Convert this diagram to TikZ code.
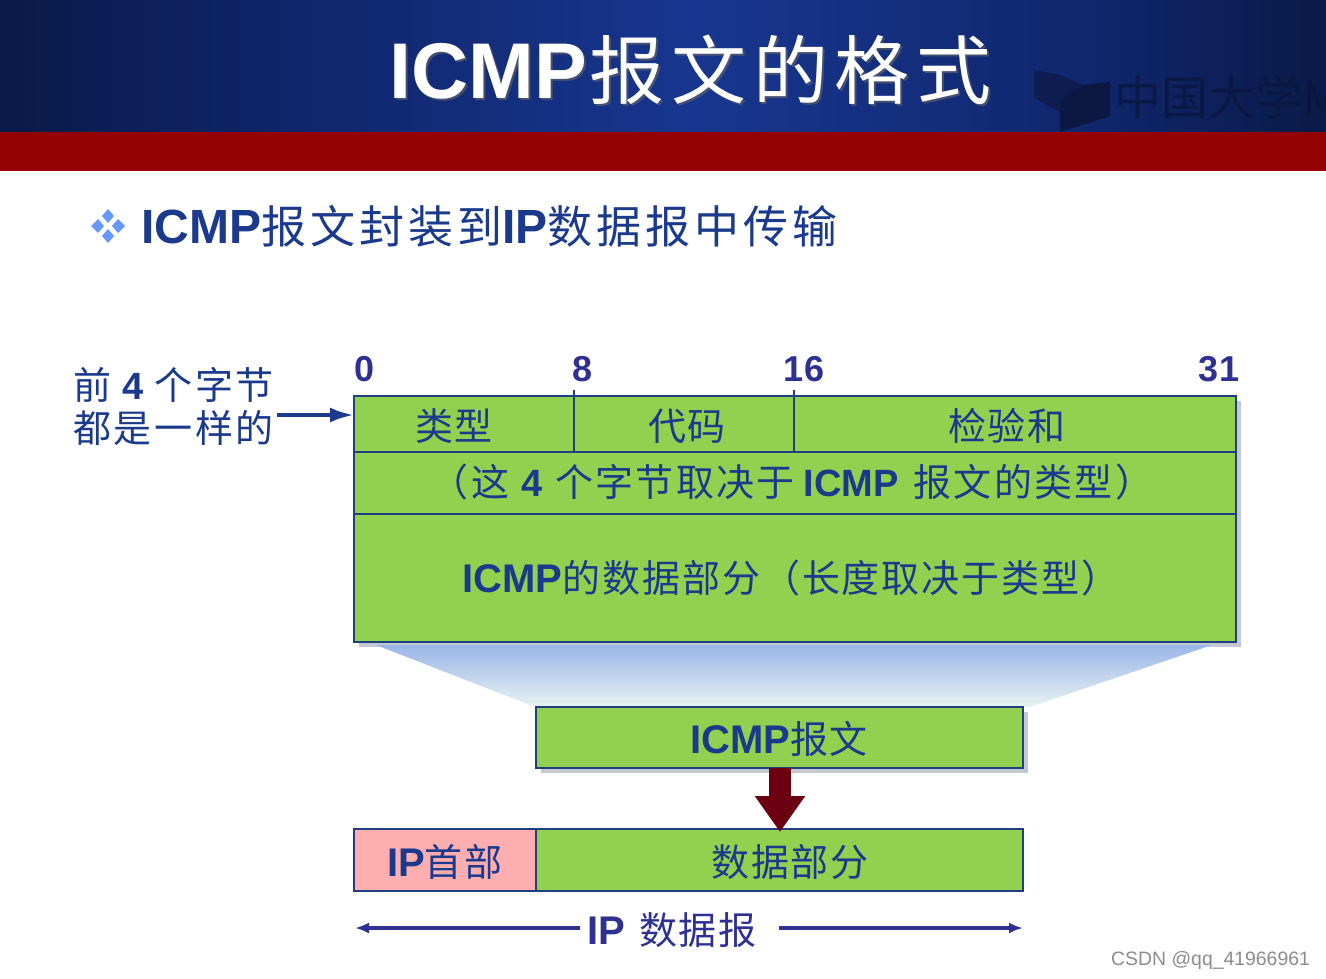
\documentclass[tikz,border=0pt]{standalone}
\usepackage{fontspec}
\usetikzlibrary{arrows.meta,shadows}
\setmainfont{Noto Sans CJK SC}
\newfontfamily\latf{Liberation Sans}
\newcommand{\la}[1]{{\latf\bfseries #1}}
\newcommand{\fsz}[1]{\fontsize{#1}{#1}\selectfont}
\newcommand{\fls}[2]{\fontsize{#1}{#1}\selectfont\addfontfeature{LetterSpace=#2}}
\definecolor{navyd}{HTML}{0A1A48}
\definecolor{navyt}{HTML}{10266C}
\definecolor{navym}{HTML}{18368F}
\definecolor{redbar}{HTML}{950000}
\definecolor{cellg}{HTML}{92D050}
\definecolor{inkb}{HTML}{1B3A8C}
\definecolor{linec}{HTML}{1F4080}
\definecolor{pinkc}{HTML}{FFAEB0}
\definecolor{maroonc}{HTML}{6A0010}
\definecolor{violetc}{HTML}{2E3192}
\definecolor{shadowc}{HTML}{C4C8D0}
\definecolor{bulletc}{HTML}{6699FF}
\definecolor{wmark}{HTML}{0A1538}
\definecolor{funa}{HTML}{9AB5E8}
\definecolor{funb}{HTML}{BCD8E0}
\definecolor{func}{HTML}{E8F3F1}
\tikzset{
  cell/.style={draw=linec,line width=1.6pt,fill=cellg,anchor=north west,inner sep=0pt,outer sep=0pt,
    text=inkb,align=center},
  celltext/.style={text=inkb,inner sep=0pt,anchor=base,font=\fls{38}{5}},
  shad/.style={fill=shadowc,draw=none},
  bit/.style={text=violetc,inner sep=0pt,anchor=base,font=\fsz{36}},
  thinrule/.style={draw=linec,line width=1.6pt},
  dgram/.style={draw=violetc,line width=4pt,-{Latex[length=14pt,width=11pt]}},
  bulletd/.style={fill=bulletc,draw=none},
}
\begin{document}
\begin{tikzpicture}[x=1pt,y=-1pt]
\useasboundingbox (0,0) rectangle (1326,979);
\fill[white] (0,0) rectangle (1326,979);
% header
\shade[left color=navyd,right color=navyt] (0,0) rectangle (301,132);
\shade[left color=navyt,right color=navym] (300,0) rectangle (701,132);
\shade[left color=navym,right color=navyt] (700,0) rectangle (1101,132);
\shade[left color=navyt,right color=navyd] (1100,0) rectangle (1326,132);
\fill[redbar] (0,132) rectangle (1326,171);
% watermark
\begin{scope}
\clip (1030,60) rectangle (1326,132);
\fill[wmark,opacity=.55] (1034,70) -- (1060,75) -- (1083,85) -- (1060,100) -- (1060,112) -- (1034,98) -- cycle;
\fill[wmark,opacity=.8] (1060,100) -- (1083,85) -- (1110,82) -- (1110,116) -- (1060,132) -- cycle;
\node[anchor=base west,inner sep=0pt,text=wmark,opacity=.7,font=\fsz{47}] (wm) at (1114,116) {中国大学M};
\end{scope}
% title
\node[anchor=base west,inner sep=0pt,text=black!60,opacity=.6,font=\fls{75}{9}] (titles) at (391,101) {{\fsz{79}\la{ICMP}}\kern3pt 报文的格式};
\node[anchor=base west,inner sep=0pt,text=white,font=\fls{75}{9}] (title) at (389,99) {{\fsz{79}\la{ICMP}}\kern3pt 报文的格式};
% bullet
\fill[bulletd] (108,209) -- (114,216) -- (108,223) -- (102,216) -- cycle;
\fill[bulletd] (108,229) -- (114,236) -- (108,243) -- (102,236) -- cycle;
\fill[bulletd] (98,219) -- (104,226) -- (98,233) -- (91,226) -- cycle;
\fill[bulletd] (118,219) -- (125,226) -- (118,233) -- (112,226) -- cycle;
\node[anchor=base west,inner sep=0pt,text=inkb,font=\fls{45}{9}] (sub) at (141,243) {{\fsz{48}\la{ICMP}}报文封装到{\fsz{48}\la{IP}}数据报中传输};
% shadows
\fill[shad] (359,401) rectangle (1241,647);
\fill[shad] (541,712) rectangle (1028,773);
% funnel
\shade[top color=funa,middle color=funb,bottom color=func] (376,645) -- (1212,645) -- (1030,707) -- (535,707) -- cycle;
% table
\node[cell,minimum width=220pt,minimum height=56pt] (type) at (354,396) {};
\node[cell,minimum width=220pt,minimum height=56pt] (code) at (574,396) {};
\node[cell,minimum width=442pt,minimum height=56pt] (csum) at (794,396) {};
\node[cell,minimum width=882pt,minimum height=62pt] (rest) at (354,452) {};
\node[cell,minimum width=882pt,minimum height=128pt] (data) at (354,514) {};
\draw[thinrule] (type.north east) -- ++(0,-6);
\draw[thinrule] (code.north east) -- ++(0,-6);
\node[celltext] (t1) at (454,440) {类型};
\node[celltext] (t2) at (687,440) {代码};
\node[celltext] (t3) at (1007,440) {检验和};
\node[celltext] (t4) at (792,496) {\addfontfeature{LetterSpace=6}（这\kern12pt\la{4}\kern13pt 个字节取决于\kern9pt\la{ICMP}\kern15pt 报文的类型）};
\node[celltext] (t5) at (791,592) {{\fsz{40}\la{ICMP}}的数据部分（长度取决于类型）};
% bit numbers
\node[bit] (b0) at (365,381) {\la{0}};
\node[bit] (b8) at (583,381) {\la{8}};
\node[bit] (b16) at (804,381) {\la{16}};
\node[bit] (b31) at (1219,381) {\la{31}};
% left label
\node[inner sep=0pt,text=inkb,anchor=base west,font=\fls{38}{7}] (lab1) at (73,399) {前\ \la{4}\ 个字节};
\node[inner sep=0pt,text=inkb,anchor=base west,font=\fls{38}{7}] (lab2) at (73,442) {都是一样的};
\coordinate (arrs) at (277,415);
\draw[draw=inkb,line width=4pt,-{Latex[length=24pt,width=15pt]}] (arrs) -- (type.west |- arrs);
% ICMP box
\node[cell,minimum width=487pt,minimum height=61pt] (icmp) at (536,707) {};
\node[celltext] (t6) at (779,753) {{\fsz{40}\la{ICMP}}报文};
% IP packet
\node[cell,fill=pinkc,minimum width=182pt,minimum height=62pt] (iph) at (354,829) {};
\node[cell,minimum width=487pt,minimum height=62pt] (ipd) at (536,829) {};
\node[celltext] (t7) at (445,876) {{\fsz{40}\la{IP}}首部};
\node[celltext] (t8) at (790,876) {数据部分};
% big arrow
\draw[draw=maroonc,line width=22pt,-{Triangle[length=36pt,width=48pt]}] (icmp.south -| 780,0) -- (780,832);
% datagram arrows
\node[inner sep=0pt,text=violetc,font=\fls{38}{5},anchor=base] (ipg) at (672,944) {{\fsz{40}\la{IP}}\kern14pt 数据报};
\coordinate (gl) at (355,928);
\coordinate (gr) at (1023,928);
\draw[dgram] (580,928) -- (gl);
\draw[dgram] (779,928) -- (gr);
% watermark
\node[anchor=base west,inner sep=0pt,text=black!45,font=\latf\fsz{19.4}] (csdn) at (1111,965) {CSDN @qq\_41966961};
\end{tikzpicture}
\end{document}
